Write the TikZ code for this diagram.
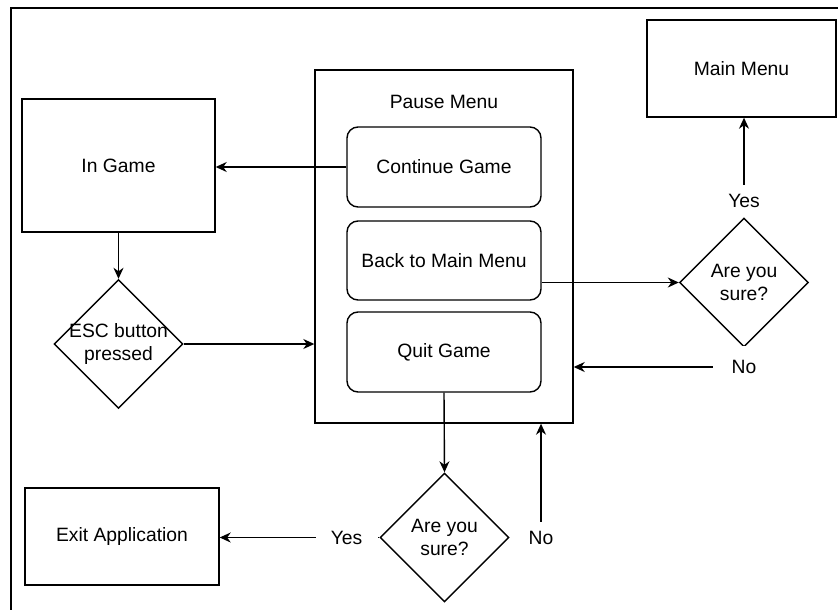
\documentclass[tikz,border=0pt]{standalone}
\usepackage{fontspec}
\setmainfont{Liberation Sans}
\usetikzlibrary{shapes.geometric,arrows.meta}

\begin{document}
\begin{tikzpicture}[x=1pt,y=-1pt,
  font=\fontsize{19.3}{23}\selectfont,
  line width=1.4pt,
  box/.style={draw, rectangle, inner sep=0pt},
  menuitem/.style={draw, rectangle, rounded corners=11pt, inner sep=0pt,
                   minimum width=194pt},
  decision/.style={draw, diamond, inner sep=0pt, minimum width=129pt,
                   minimum height=129pt},
  arr/.style={-{Stealth[length=11pt,width=10pt,inset=3.5pt]}},
  elabel/.style={fill=white, inner sep=0pt, minimum width=62pt,
                 minimum height=32pt}]

\useasboundingbox (0,0) rectangle (838,610);

% outer page frame
\begin{scope}
  \clip (0,0) rectangle (838,610);
  \draw (11,8) rectangle (860,640);
\end{scope}

% states
\node[box, minimum width=193pt, minimum height=133pt] (ingame) at (118.5,165.5) {In Game};
\node[box, minimum width=189pt, minimum height=97pt] (main) at (741.5,68.5) {Main Menu};
\node[box, minimum width=194pt, minimum height=97pt] (exitapp) at (122,536.5) {Exit Application};

% pause menu container and its entries
\node[box, minimum width=258pt, minimum height=353pt] (pause) at (444,246.5) {};
\node (pausetitle) at (444,102) {Pause Menu};
\node[menuitem, minimum height=80pt] (cont) at (444,167) {Continue Game};
\node[menuitem, minimum height=79pt] (back) at (444,260.5) {Back to Main Menu};
\node[menuitem, minimum height=80pt] (quit) at (444,352) {Quit Game};

% decisions
\node[decision, label={[align=center]center:ESC button\\pressed}] (esc) at (118.5,344) {};
\node[decision, label={[align=center]center:Are you\\sure?}] (sure1) at (744,282.5) {};
\node[decision, label={[align=center]center:Are you\\sure?}] (sure2) at (444.5,537.5) {};

% connectors
\draw[arr] (cont.west) -- (cont.west -| ingame.east);
\draw[arr] (ingame.south) -- (esc.north);
\draw[arr] (esc.east) -- (esc.east -| pause.west);
\draw[arr] (back.east |- sure1.west) -- (sure1.west);
\draw[arr] (sure1.north) -- (sure1.north |- main.south) node[elabel, pos=0.16] {Yes};
\draw[arr] (sure1.south) |- ([yshift=-120.5pt]pause.east) node[elabel, minimum height=42pt, pos=0.5] {No};
\draw[arr] (quit.south) -- (sure2.north);
\draw[arr] (sure2.east) -| ([xshift=97pt]pause.south) node[elabel, pos=0.5] {No};
\draw[arr] (sure2.west) -- (sure2.west -| exitapp.east) node[elabel, pos=0.205] {Yes};

\end{tikzpicture}
\end{document}
